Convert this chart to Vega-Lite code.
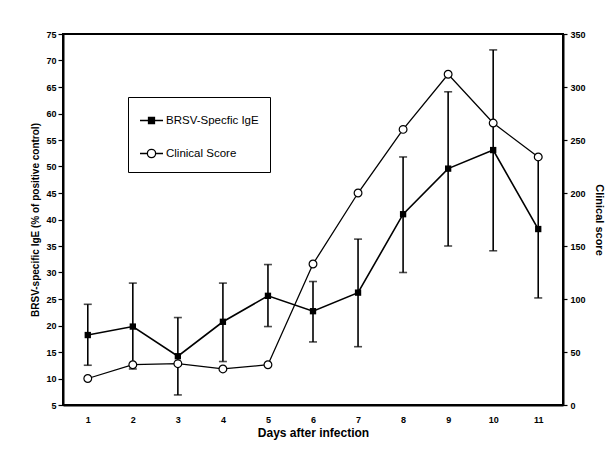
{
  "$schema": "https://vega.github.io/schema/vega-lite/v6.json",
  "width": 500,
  "height": 371,
  "autosize": {"type": "none"},
  "padding": {"left": 63, "top": 34, "right": 53, "bottom": 50},
  "background": "white",
  "config": {
    "font": "Liberation Sans",
    "view": {"stroke": "black", "strokeWidth": 2},
    "axis": {"domainColor": "black", "domainWidth": 2, "tickColor": "black", "tickWidth": 1.2, "labelColor": "black", "titleColor": "black", "labelFont": "Liberation Sans", "titleFont": "Liberation Sans", "labelFontWeight": "bold", "titleFontWeight": "bold", "labelFontSize": 9, "grid": false, "labelOverlap": false}
  },
  "datasets": {
    "ige": [
      {"day": 1, "ige": 18.2, "lo": 12.5, "hi": 24.0},
      {"day": 2, "ige": 19.8, "lo": 11.8, "hi": 28.0},
      {"day": 3, "ige": 14.2, "lo": 6.9, "hi": 21.5},
      {"day": 4, "ige": 20.7, "lo": 13.2, "hi": 28.0},
      {"day": 5, "ige": 25.6, "lo": 19.8, "hi": 31.5},
      {"day": 6, "ige": 22.7, "lo": 16.9, "hi": 28.3},
      {"day": 7, "ige": 26.2, "lo": 16.0, "hi": 36.3},
      {"day": 8, "ige": 41.0, "lo": 30.0, "hi": 51.8},
      {"day": 9, "ige": 49.6, "lo": 35.0, "hi": 64.1},
      {"day": 10, "ige": 53.1, "lo": 34.1, "hi": 72.0},
      {"day": 11, "ige": 38.2, "lo": 25.2, "hi": 51.8}
    ],
    "clin": [
      {"day": 1, "score": 25},
      {"day": 2, "score": 38},
      {"day": 3, "score": 39},
      {"day": 4, "score": 34},
      {"day": 5, "score": 38},
      {"day": 6, "score": 133},
      {"day": 7, "score": 200},
      {"day": 8, "score": 260},
      {"day": 9, "score": 312},
      {"day": 10, "score": 266},
      {"day": 11, "score": 234}
    ],
    "keys": [
      {"series": "BRSV-Specfic IgE"},
      {"series": "Clinical Score"}
    ]
  },
  "layer": [
    {
      "data": {"name": "ige"},
      "encoding": {
        "x": {"field": "day", "type": "quantitative", "scale": {"domain": [0.45, 11.55], "nice": false, "zero": false},
          "axis": {"values": [1,2,3,4,5,6,7,8,9,10,11], "tickCount": 30, "format": "d", "ticks": false, "labelPadding": 10, "title": "Days after infection", "titleFontSize": 12, "titlePadding": 3}}
      },
      "layer": [
        {
          "mark": {"type": "rule", "color": "black", "strokeWidth": 1.6},
          "encoding": {
            "y": {"field": "lo", "type": "quantitative", "scale": {"domain": [5, 75], "nice": false, "zero": false},
              "axis": {"values": [5,10,15,20,25,30,35,40,45,50,55,60,65,70,75], "tickCount": 30, "format": "d", "orient": "left", "tickSize": 5, "labelPadding": 2, "labelOverlap": false, "labelFlush": false, "title": "BRSV-specific IgE (% of positive control)", "titleFontSize": 10, "titlePadding": 5}},
            "y2": {"field": "hi"}
          }
        },
        {
          "mark": {"type": "tick", "orient": "horizontal", "color": "black", "size": 8, "thickness": 1.6},
          "encoding": {"y": {"field": "lo", "type": "quantitative"}}
        },
        {
          "mark": {"type": "tick", "orient": "horizontal", "color": "black", "size": 8, "thickness": 1.6},
          "encoding": {"y": {"field": "hi", "type": "quantitative"}}
        },
        {
          "mark": {"type": "line", "color": "black", "strokeWidth": 1.6},
          "encoding": {"y": {"field": "ige", "type": "quantitative"}}
        },
        {
          "mark": {"type": "point", "shape": "square", "filled": true, "color": "black", "size": 40, "opacity": 1},
          "encoding": {"y": {"field": "ige", "type": "quantitative"}}
        },
        {
          "data": {"name": "keys"},
          "mark": {"type": "point", "filled": true, "clip": true, "strokeWidth": 1.3},
          "encoding": {
            "x": {"datum": -2},
            "y": {"field": "nothing", "type": "quantitative"},
            "shape": {"field": "series", "type": "nominal",
              "scale": {"domain": ["BRSV-Specfic IgE", "Clinical Score"], "range": ["M-1,0H1M-0.26,-0.26H0.26V0.26H-0.26Z", "M-1,0H-0.36M0.36,0H1M-0.36,0A0.36,0.36,0,1,0,0.36,0A0.36,0.36,0,1,0,-0.36,0Z"]},
              "legend": {"title": null, "orient": "none", "legendX": 65, "legendY": 63, "strokeColor": "black", "padding": 11, "symbolSize": 529, "rowPadding": 14, "labelOffset": 2, "labelFontSize": 11.5, "labelFont": "Liberation Sans", "labelColor": "black", "symbolStrokeWidth": 1.3, "symbolOpacity": 1}},
            "fill": {"field": "series", "type": "nominal",
              "scale": {"domain": ["BRSV-Specfic IgE", "Clinical Score"], "range": ["black", "white"]},
              "legend": {"title": null}},
            "stroke": {"field": "series", "type": "nominal",
              "scale": {"domain": ["BRSV-Specfic IgE", "Clinical Score"], "range": ["black", "black"]},
              "legend": {"title": null}}
          }
        }
      ]
    },
    {
      "data": {"name": "clin"},
      "encoding": {
        "x": {"field": "day", "type": "quantitative"}
      },
      "layer": [
        {
          "mark": {"type": "line", "color": "black", "strokeWidth": 1.3},
          "encoding": {"y": {"field": "score", "type": "quantitative", "scale": {"domain": [0, 350], "nice": false},
            "axis": {"values": [0,50,100,150,200,250,300,350], "tickCount": 30, "format": "d", "orient": "right", "tickSize": 4, "labelPadding": 3, "title": "Clinical score", "titleFontSize": 11, "titlePadding": 8}}}
        },
        {
          "mark": {"type": "point", "shape": "circle", "filled": true, "fill": "white", "stroke": "black", "strokeWidth": 1.2, "size": 60, "opacity": 1},
          "encoding": {"y": {"field": "score", "type": "quantitative"}}
        }
      ]
    }
  ],
  "resolve": {"scale": {"y": "independent"}, "axis": {"y": "independent"}}
}
